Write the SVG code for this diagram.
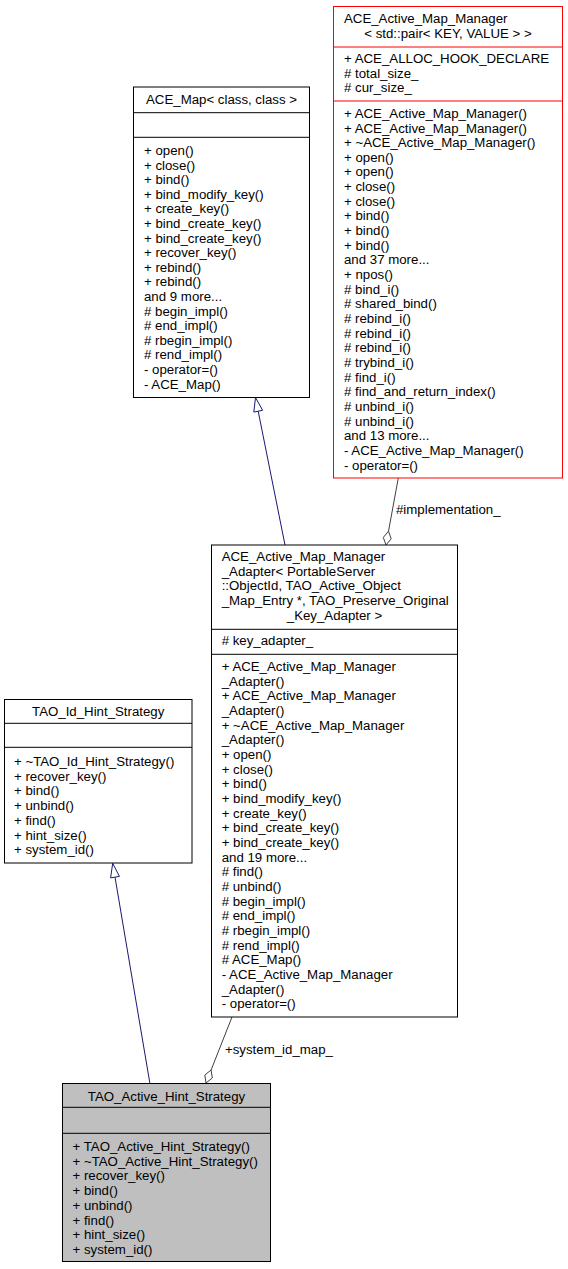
<svg xmlns="http://www.w3.org/2000/svg" width="568" height="1269" viewBox="0 0 568 1269">
<style>
.bg{fill:#ffffff}
.box{fill:#ffffff;stroke:#000000;stroke-width:1}
.red{fill:#ffffff;stroke:#ff0000;stroke-width:1}
.cur{fill:#bfbfbf;stroke:#000000;stroke-width:1}
.sep{stroke:#000000;stroke-width:1}
.sepr{stroke:#ff0000;stroke-width:1}
.t{font-family:"Liberation Sans",Arial,Helvetica,sans-serif;font-size:13.25px;fill:#000000}
.m{text-anchor:middle}
.inh{fill:none;stroke:#191970;stroke-width:1}
.inhh{fill:#ffffff;stroke:#191970;stroke-width:1}
.use{fill:none;stroke:#404040;stroke-width:1}
.useh{fill:#ffffff;stroke:#404040;stroke-width:1}
</style>
<rect class="bg" x="0" y="0" width="568" height="1269"/>

<g id="connectors">
  <polyline class="inh" points="258.2,411.2 285,545"/>
  <polygon class="inhh" points="255.5,397.5 262.6,410.3 253.8,412.1"/>
  <polyline class="inh" points="115,877.1 150,1084"/>
  <polygon class="inhh" points="112.7,863.3 119.4,876.4 110.6,877.9"/>
  <polyline class="use" points="388.5,531.2 398.3,478"/>
  <polygon class="useh" points="386,545 391.2,538.8 388.5,531.2 383.3,537.4"/>
  <text class="t" x="396" y="514">#implementation_</text>
  <polyline class="use" points="211.1,1070 232,1017"/>
  <polygon class="useh" points="206,1083 212.3,1078 211.1,1070 204.8,1075"/>
  <text class="t" x="225" y="1054">+system_id_map_</text>
</g>

<g id="node_ace_active_map_manager">
  <rect class="red" x="333.5" y="6.5" width="229" height="471.5"/>
  <line class="sepr" x1="333.5" y1="47" x2="562.5" y2="47"/>
  <line class="sepr" x1="333.5" y1="101" x2="562.5" y2="101"/>
  <text class="t" x="344" y="23">ACE_Active_Map_Manager</text>
  <text class="t m" x="448" y="37.7">&lt; std::pair&lt; KEY, VALUE &gt; &gt;</text>
  <text class="t">
    <tspan x="344" y="62.8">+ ACE_ALLOC_HOOK_DECLARE</tspan>
    <tspan x="344" y="77.5"># total_size_</tspan>
    <tspan x="344" y="92.2"># cur_size_</tspan>
  </text>
  <text class="t">
    <tspan x="344" y="117.8">+ ACE_Active_Map_Manager()</tspan>
    <tspan x="344" y="132.5">+ ACE_Active_Map_Manager()</tspan>
    <tspan x="344" y="147.1">+ ~ACE_Active_Map_Manager()</tspan>
    <tspan x="344" y="161.8">+ open()</tspan>
    <tspan x="344" y="176.4">+ open()</tspan>
    <tspan x="344" y="191.1">+ close()</tspan>
    <tspan x="344" y="205.8">+ close()</tspan>
    <tspan x="344" y="220.4">+ bind()</tspan>
    <tspan x="344" y="235.1">+ bind()</tspan>
    <tspan x="344" y="249.7">+ bind()</tspan>
    <tspan x="344" y="264.4">and 37 more...</tspan>
    <tspan x="344" y="279.1">+ npos()</tspan>
    <tspan x="344" y="293.7"># bind_i()</tspan>
    <tspan x="344" y="308.4"># shared_bind()</tspan>
    <tspan x="344" y="323.0"># rebind_i()</tspan>
    <tspan x="344" y="337.7"># rebind_i()</tspan>
    <tspan x="344" y="352.4"># rebind_i()</tspan>
    <tspan x="344" y="367.0"># trybind_i()</tspan>
    <tspan x="344" y="381.7"># find_i()</tspan>
    <tspan x="344" y="396.3"># find_and_return_index()</tspan>
    <tspan x="344" y="411.0"># unbind_i()</tspan>
    <tspan x="344" y="425.7"># unbind_i()</tspan>
    <tspan x="344" y="440.3">and 13 more...</tspan>
    <tspan x="344" y="455.0">- ACE_Active_Map_Manager()</tspan>
    <tspan x="344" y="469.6">- operator=()</tspan>
  </text>
</g>

<g id="node_ace_map">
  <rect class="box" x="133.5" y="87" width="176" height="310.5"/>
  <line class="sep" x1="133.5" y1="112.7" x2="309.5" y2="112.7"/>
  <line class="sep" x1="133.5" y1="137.3" x2="309.5" y2="137.3"/>
  <text class="t m" x="221.5" y="103.5">ACE_Map&lt; class, class &gt;</text>
  <text class="t">
    <tspan x="144" y="155">+ open()</tspan>
    <tspan x="144" y="169.6">+ close()</tspan>
    <tspan x="144" y="184.2">+ bind()</tspan>
    <tspan x="144" y="198.8">+ bind_modify_key()</tspan>
    <tspan x="144" y="213.4">+ create_key()</tspan>
    <tspan x="144" y="228">+ bind_create_key()</tspan>
    <tspan x="144" y="242.6">+ bind_create_key()</tspan>
    <tspan x="144" y="257.2">+ recover_key()</tspan>
    <tspan x="144" y="271.8">+ rebind()</tspan>
    <tspan x="144" y="286.4">+ rebind()</tspan>
    <tspan x="144" y="301">and 9 more...</tspan>
    <tspan x="144" y="315.6"># begin_impl()</tspan>
    <tspan x="144" y="330.2"># end_impl()</tspan>
    <tspan x="144" y="344.8"># rbegin_impl()</tspan>
    <tspan x="144" y="359.4"># rend_impl()</tspan>
    <tspan x="144" y="374">- operator=()</tspan>
    <tspan x="144" y="388.6">- ACE_Map()</tspan>
  </text>
</g>

<g id="node_adapter">
  <rect class="box" x="211.5" y="545" width="246" height="472"/>
  <line class="sep" x1="211.5" y1="629.3" x2="457.5" y2="629.3"/>
  <line class="sep" x1="211.5" y1="654.3" x2="457.5" y2="654.3"/>
  <text class="t">
    <tspan x="221.7" y="561">ACE_Active_Map_Manager</tspan>
    <tspan x="221.7" y="575.7">_Adapter&lt; PortableServer</tspan>
    <tspan x="221.7" y="590.3">::ObjectId, TAO_Active_Object</tspan>
    <tspan x="221.7" y="605">_Map_Entry *, TAO_Preserve_Original</tspan>
  </text>
  <text class="t m" x="334.5" y="619.6">_Key_Adapter &gt;</text>
  <text class="t" x="221.7" y="644.5"># key_adapter_</text>
  <text class="t">
    <tspan x="221.7" y="671">+ ACE_Active_Map_Manager</tspan>
    <tspan x="221.7" y="685.7">_Adapter()</tspan>
    <tspan x="221.7" y="700.3">+ ACE_Active_Map_Manager</tspan>
    <tspan x="221.7" y="715.0">_Adapter()</tspan>
    <tspan x="221.7" y="729.6">+ ~ACE_Active_Map_Manager</tspan>
    <tspan x="221.7" y="744.3">_Adapter()</tspan>
    <tspan x="221.7" y="759.0">+ open()</tspan>
    <tspan x="221.7" y="773.6">+ close()</tspan>
    <tspan x="221.7" y="788.3">+ bind()</tspan>
    <tspan x="221.7" y="802.9">+ bind_modify_key()</tspan>
    <tspan x="221.7" y="817.6">+ create_key()</tspan>
    <tspan x="221.7" y="832.3">+ bind_create_key()</tspan>
    <tspan x="221.7" y="846.9">+ bind_create_key()</tspan>
    <tspan x="221.7" y="861.6">and 19 more...</tspan>
    <tspan x="221.7" y="876.2"># find()</tspan>
    <tspan x="221.7" y="890.9"># unbind()</tspan>
    <tspan x="221.7" y="905.6"># begin_impl()</tspan>
    <tspan x="221.7" y="920.2"># end_impl()</tspan>
    <tspan x="221.7" y="934.9"># rbegin_impl()</tspan>
    <tspan x="221.7" y="949.5"># rend_impl()</tspan>
    <tspan x="221.7" y="964.2"># ACE_Map()</tspan>
    <tspan x="221.7" y="978.9">- ACE_Active_Map_Manager</tspan>
    <tspan x="221.7" y="993.5">_Adapter()</tspan>
    <tspan x="221.7" y="1008.2">- operator=()</tspan>
  </text>
</g>

<g id="node_tao_id_hint_strategy">
  <rect class="box" x="4.5" y="699.5" width="187.5" height="163.5"/>
  <line class="sep" x1="4.5" y1="723.3" x2="192" y2="723.3"/>
  <line class="sep" x1="4.5" y1="747.3" x2="192" y2="747.3"/>
  <text class="t m" x="98.2" y="716">TAO_Id_Hint_Strategy</text>
  <text class="t">
    <tspan x="14" y="766">+ ~TAO_Id_Hint_Strategy()</tspan>
    <tspan x="14" y="780.7">+ recover_key()</tspan>
    <tspan x="14" y="795.4">+ bind()</tspan>
    <tspan x="14" y="810.1">+ unbind()</tspan>
    <tspan x="14" y="824.8">+ find()</tspan>
    <tspan x="14" y="839.5">+ hint_size()</tspan>
    <tspan x="14" y="854.2">+ system_id()</tspan>
  </text>
</g>

<g id="node_tao_active_hint_strategy">
  <rect class="cur" x="62.5" y="1083.5" width="208" height="178"/>
  <line class="sep" x1="62.5" y1="1107.3" x2="270.5" y2="1107.3"/>
  <line class="sep" x1="62.5" y1="1133.3" x2="270.5" y2="1133.3"/>
  <text class="t m" x="166.5" y="1101">TAO_Active_Hint_Strategy</text>
  <text class="t">
    <tspan x="72.5" y="1151">+ TAO_Active_Hint_Strategy()</tspan>
    <tspan x="72.5" y="1165.7">+ ~TAO_Active_Hint_Strategy()</tspan>
    <tspan x="72.5" y="1180.4">+ recover_key()</tspan>
    <tspan x="72.5" y="1195.1">+ bind()</tspan>
    <tspan x="72.5" y="1209.8">+ unbind()</tspan>
    <tspan x="72.5" y="1224.5">+ find()</tspan>
    <tspan x="72.5" y="1239.2">+ hint_size()</tspan>
    <tspan x="72.5" y="1253.9">+ system_id()</tspan>
  </text>
</g>
</svg>
